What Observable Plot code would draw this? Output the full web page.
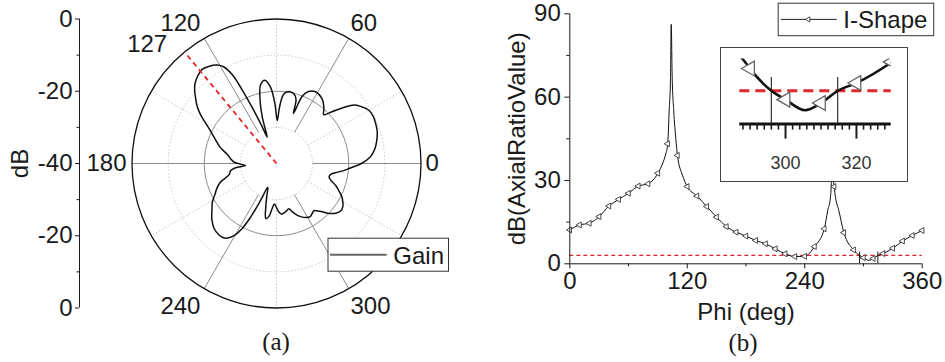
<!DOCTYPE html>
<html>
<head>
<meta charset="utf-8">
<script src="https://cdn.jsdelivr.net/npm/d3@7"></script>
<script src="https://cdn.jsdelivr.net/npm/@observablehq/plot@0.6"></script>
<style>
html,body{margin:0;padding:0;background:#fff;}
#fig{position:relative;width:945px;height:362px;overflow:hidden;background:#fff;}
#fig svg{display:block;}
</style>
</head>
<body>
<div id="fig"></div>
<script>
// ---------------- (a) polar gain pattern ----------------
const rMin = -40;                       // dB at the centre of the polar grid
const gainAngle = [0,4,8,13,18,22,26,30,34,37,40,43,46,49,54,58,62,66,69,71.3,73,76,79,82,84.5,87,89,91.5,94.5,98,101.5,104,107,109.5,111.5,113.5,115,116.5,118.5,121,125,128.5,132,135.5,138,140.5,144,147,150,153.5,158,164,170,174,178,181,183.7,186,189,193,198.5,203,206.5,211,216,221,226,231,235,238,240,242,244.2,246.6,249.8,253,256,259,262,264.5,267,270,273,276,279,282,285.2,288.5,291.7,295,299,302.3,305.5,308.5,311,313.5,316.5,320,323.5,327,330,333,336,339.6,343,346,349,352,355,358];
const gainDb = [-16.5,-14.0,-12.6,-11.5,-10.7,-10.4,-10.2,-10.5,-11.8,-13.1,-16.0,-19.0,-21.2,-20.0,-18.3,-17.6,-17.4,-18.2,-20.0,-25.4,-21.5,-20.1,-19.8,-20.0,-21.0,-24.5,-28.1,-23.5,-18.8,-16.7,-17.8,-21.0,-26.5,-32.3,-28.5,-23.0,-17.5,-12.5,-9.6,-8.2,-7.2,-6.8,-7.4,-8.4,-9.5,-10.9,-12.8,-14.8,-17.2,-19.5,-21.6,-23.8,-26.3,-27.2,-28.2,-30.0,-31.4,-28.6,-27.1,-26.6,-23.6,-22.0,-21.0,-19.3,-17.9,-16.3,-15.1,-14.6,-14.8,-15.9,-17.3,-19.5,-23.4,-28.8,-33.0,-31.0,-27.8,-24.5,-25.3,-27.5,-28.8,-27.8,-26.5,-25.9,-26.2,-26.6,-27.0,-25.8,-24.6,-23.7,-22.9,-22.6,-23.0,-23.3,-22.6,-21.6,-19.9,-18.6,-17.9,-18.1,-18.8,-19.7,-21.0,-22.5,-24.3,-25.0,-24.6,-22.8,-20.6,-18.3];
const ringDotted = [-30, -10];
const ringMid = [-20];
const ringOuter = [0];
const spokeSolid = [0, 60, 120, 180, 240, 300];
const spokeDotted = [30, 90, 150, 210, 270, 330];
const angleLabels = [0, 60, 120, 180, 240, 300];
const radialTicks = [-40, -20, 0, 20, 40];
const radialMinor = [-30, -10, 10, 30];
const beamAngle = 129.5;
const beamLabel = "127";

// ---------------- (b) axial ratio ----------------
const phi = [0,10,20,30,40,50,60,70,80,90,95,98,100,101.5,102.9,103.6,104.6,106.2,108.3,110,115,120,130,140,150,160,170,180,190,200,210,220,230,240,250,260,263.5,266.3,267.3,268.1,269.2,270,271.4,274.8,280,290,296,300,305.5,310,314.7,320,330,340,350,360];
const axialRatio = [12.2,14.0,14.6,17.0,20.8,23.2,25.4,28.0,28.8,32.6,36.3,39.5,43.2,55,67,86.2,67,55,45,39,32,27.8,24.4,20.6,16.8,13.4,11.4,10.0,8.4,7.2,5.4,3.6,2.6,2.7,6.2,12.6,19.2,24,30,40,30.5,27.8,24,19.2,11.2,5.0,3.0,2.2,1.25,1.9,3.0,3.7,5.6,8.2,10.2,12.0];
const xTicks = [0, 120, 240, 360];
const xMinor = [60, 180, 300];
const yTicks = [0, 30, 60, 90];
const yMinor = [15, 45, 75];
const arLimit = 3;
const bandEdges = [296, 314.7];
const bandMarkTop = 4.2;
const insetTicks = [300, 320];
const insetMinor = [288,290,292,294,296,298,302,304,306,308,310,312,314,316,318,322,324,326,328];
const insetPhiDomain = [287.1, 329.8];
const insetArDomain = [0, 5.85];

// ---------------- helpers ----------------
const FONT = '"Liberation Sans", Arial, Helvetica, sans-serif';
const INK = "#1a1a1a";
const RED = "#e3262b";
const baseStyle = {fontFamily: FONT, fontSize: "24px", color: INK, background: "transparent", overflow: "visible"};
const rad = a => a * Math.PI / 180;
const px = (db, a) => (db - rMin) * Math.cos(rad(a));
const py = (db, a) => (db - rMin) * Math.sin(rad(a));
const gain = gainAngle.map((a, i) => ({a, db: gainDb[i]}));

const triangleLeft = {
  draw(context, size) {
    const s = Math.sqrt(size * 4 / Math.sqrt(3));
    const h = s * Math.sqrt(3) / 2;
    context.moveTo(-h * 2 / 3, 0);
    context.lineTo(h / 3, -s / 2);
    context.lineTo(h / 3, s / 2);
    context.closePath();
  }
};

const ring = (levels, opts) => Plot.dot(levels, {x: () => 0, y: () => 0, r: d => d - rMin, fill: "none", ...opts});
const spoke = (angles, opts) => Plot.link(angles, {x1: a => px(-30, a), y1: a => py(-30, a), x2: a => px(0, a), y2: a => py(0, a), ...opts});

const placement = {
  0:   {textAnchor: "start", dx: 4.5,  dy: 0},
  60:  {textAnchor: "start", dx: 1.7,  dy: -15.4},
  120: {textAnchor: "end",   dx: -3.8, dy: -15.4},
  180: {textAnchor: "end",   dx: -5.5, dy: 0},
  240: {textAnchor: "end",   dx: -3.8, dy: 17.7},
  300: {textAnchor: "start", dx: 1.7,  dy: 17.7}
};

const fig = document.getElementById("fig");
function put(node, left, top) {
  node.style.position = "absolute";
  node.style.left = left + "px";
  node.style.top = top + "px";
  fig.appendChild(node);
}

// ---------------- (a) polar plot ----------------
const polar = Plot.plot({
  width: 470, height: 362,
  marginLeft: 131.5, marginRight: 49.5, marginTop: 18.5, marginBottom: 54.5,
  x: {domain: [-40, 40], axis: null},
  y: {domain: [-40, 40], axis: null},
  r: {type: "linear", domain: [0, 40], range: [0, 144.5]},
  style: baseStyle,
  marks: [
    ring(ringDotted, {stroke: "#c2c2c2", strokeWidth: 0.9, strokeDasharray: "1.5,2"}),
    spoke(spokeDotted, {stroke: "#c2c2c2", strokeWidth: 0.9, strokeDasharray: "1.5,2"}),
    spoke(spokeSolid, {stroke: "#8c8c8c", strokeWidth: 1}),
    ring(ringMid, {stroke: "#8c8c8c", strokeWidth: 1}),
    ring(ringOuter, {stroke: "#111", strokeWidth: 1.3}),
    Plot.line(gain, {x: d => px(d.db, d.a), y: d => py(d.db, d.a), curve: "catmull-rom-closed", stroke: "#111", strokeWidth: 1.5}),
    Plot.link([beamAngle], {x1: () => 0, y1: () => 0, x2: a => px(0, a), y2: a => py(0, a), stroke: RED, strokeWidth: 1.8, strokeDasharray: "5,4"}),
    ...angleLabels.map(a => Plot.text([a], {x: d => px(0, d), y: d => py(0, d), text: d => String(d), lineAnchor: "middle", fill: INK, ...placement[a]})),
    Plot.text([beamAngle], {x: a => px(0, a), y: a => py(0, a), text: () => beamLabel, textAnchor: "end", lineAnchor: "middle", dx: -17.4, dy: -8, fill: INK})
  ]
});

const polarAxis = Plot.plot({
  width: 100, height: 362,
  marginLeft: 79, marginRight: 20, marginTop: 18.5, marginBottom: 54.5,
  x: {domain: [0, 1], axis: null},
  y: {domain: [-40, 40]},
  style: baseStyle,
  marks: [
    Plot.ruleX([0], {y1: () => -40, y2: () => 40, stroke: INK, strokeWidth: 1}),
    Plot.axisY(radialTicks, {anchor: "left", tickSize: 4, tickPadding: 3, tickFormat: v => String(Math.abs(v) + rMin), label: "dB", labelAnchor: "center", labelOffset: 69, labelArrow: "none"}),
    Plot.axisY(radialMinor, {anchor: "left", tickSize: 2.5, tickFormat: () => "", label: null})
  ]
});

// ---------------- (b) axial ratio plot ----------------
const ar = phi.map((p, i) => ({phi: p, ar: axialRatio[i]}));
const markers = ar.filter(d => d.phi % 10 === 0);

const right = Plot.plot({
  width: 465, height: 362,
  marginLeft: 89.3, marginRight: 23.3, marginTop: 13.3, marginBottom: 98.7,
  x: {domain: [0, 360]},
  y: {domain: [0, 90]},
  style: baseStyle,
  marks: [
    Plot.ruleY([arLimit], {x1: () => 0, x2: () => 360, stroke: RED, strokeWidth: 1.2, strokeDasharray: "4,3"}),
    Plot.ruleX(bandEdges, {y1: () => 0, y2: () => bandMarkTop, stroke: INK, strokeWidth: 1}),
    Plot.line(ar, {x: "phi", y: "ar", curve: "monotone-x", stroke: "#111", strokeWidth: 1}),
    Plot.dot(markers, {x: "phi", y: "ar", symbol: triangleLeft, r: 2.2, fill: "white", stroke: "#222", strokeWidth: 0.8}),
    Plot.ruleY([0], {stroke: INK}),
    Plot.ruleX([0], {stroke: INK}),
    Plot.axisX(xTicks, {tickSize: 5, tickPadding: 3, label: "Phi (deg)", labelAnchor: "center", labelOffset: 56, labelArrow: "none"}),
    Plot.axisX(xMinor, {tickSize: 3, tickFormat: () => "", label: null}),
    Plot.axisY(yTicks, {tickSize: 5, tickPadding: 4, label: "dB(AxialRatioValue)", labelAnchor: "center", labelOffset: 62, labelArrow: "none"}),
    Plot.axisY(yMinor, {tickSize: 3, tickFormat: () => "", label: null})
  ]
});

const inset = Plot.plot({
  width: 188, height: 135,
  marginLeft: 19.3, marginRight: 17.3, marginTop: 11.6, marginBottom: 58.4,
  x: {domain: insetPhiDomain},
  y: {domain: insetArDomain, axis: null},
  style: {...baseStyle, background: "#fff", fontSize: "18px"},
  marks: [
    Plot.ruleX(bandEdges, {y1: () => 0, y2: () => bandMarkTop, stroke: "#333", strokeWidth: 1.2}),
    Plot.ruleY([arLimit], {stroke: RED, strokeWidth: 3, strokeDasharray: "10,6"}),
    Plot.line(ar, {x: "phi", y: "ar", curve: "monotone-x", stroke: "#111", strokeWidth: 2.6, clip: true}),
    Plot.dot(markers, {x: "phi", y: "ar", symbol: triangleLeft, r: 5.5, fill: "white", stroke: "#666", strokeWidth: 1.3, clip: true}),
    Plot.ruleY([0], {stroke: "#111", strokeWidth: 3}),
    Plot.axisX(insetMinor, {tickSize: 6, strokeWidth: 1.6, tickFormat: () => "", label: null}),
    Plot.axisX(insetTicks, {tickSize: 15, strokeWidth: 2, tickPadding: 17, fill: "#333", label: null})
  ]
});

put(polarAxis, 0, 0);
put(polar, 0, 0);
put(right, 480, 0);
put(inset, 720, 46.7);

const border = document.createElement("div");
border.style.cssText = "position:absolute;left:720px;top:46.7px;width:188.3px;height:135px;box-sizing:border-box;border:1.3px solid #444;pointer-events:none;";
fig.appendChild(border);

// legends and panel captions
const overlay = document.createElement("div");
overlay.innerHTML = `<svg xmlns="http://www.w3.org/2000/svg" width="945" height="362" style="position:absolute;left:0;top:0;pointer-events:none;font-family:${FONT.replace(/"/g, "'")};">
  <g transform="translate(327.5,237.7)">
    <rect x="0.5" y="0.5" width="120.5" height="33" fill="#fff" stroke="#333" stroke-width="1"/>
    <line x1="2.5" x2="59.2" y1="17" y2="17" stroke="#666" stroke-width="2"/>
    <text x="65.8" y="26" font-size="24" fill="${INK}">Gain</text>
  </g>
  <g transform="translate(777.7,2.7)">
    <rect x="0.5" y="0.5" width="155.5" height="32.5" fill="#fff" stroke="#333" stroke-width="1"/>
    <line x1="3" x2="59" y1="16.7" y2="16.7" stroke="#222" stroke-width="1"/>
    <path d="M27.6,16.7L32.1,14.1L32.1,19.3Z" fill="#fff" stroke="#222" stroke-width="0.8"/>
    <text x="65.6" y="25.6" font-size="24" fill="${INK}">I-Shape</text>
  </g>
  <text x="276" y="350" text-anchor="middle" font-family="'Liberation Serif','Times New Roman',serif" font-size="25" fill="${INK}">(a)</text>
  <text x="743" y="351" text-anchor="middle" font-family="'Liberation Serif','Times New Roman',serif" font-size="25" fill="${INK}">(b)</text>
</svg>`;
fig.appendChild(overlay.firstChild);
</script>
</body>
</html>
